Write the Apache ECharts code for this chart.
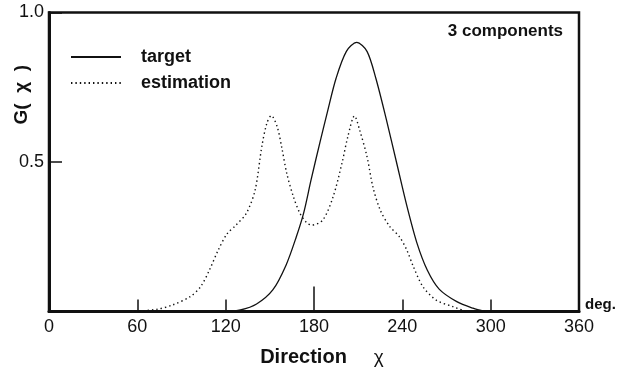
<!DOCTYPE html>
<html>
<head>
<meta charset="utf-8">
<script src="https://cdn.jsdelivr.net/npm/echarts@6/dist/echarts.min.js"></script>
<style>
  html, body { margin: 0; padding: 0; background: #fff; }
  #chart { width: 634px; height: 374px; }
</style>
</head>
<body>
<div id="chart"></div>
<script>
// Directional spreading function G(χ): target vs. 3-component estimate
const xTicks = [0, 60, 120, 180, 240, 300, 360];
const yTicks = [0, 0.5, 1.0];

const targetDeg = [120, 130, 141, 152, 161, 168, 173, 178, 184, 189, 195, 202, 209, 216, 222, 229, 236, 243, 250, 257, 265, 277, 288, 296];
const targetG   = [0, 0.005, 0.025, 0.072, 0.155, 0.25, 0.33, 0.44, 0.565, 0.665, 0.78, 0.87, 0.9, 0.87, 0.78, 0.645, 0.5, 0.355, 0.228, 0.138, 0.075, 0.033, 0.011, 0];

const estimationDeg = [55, 73, 84, 96, 103, 109, 115, 121, 127, 134, 140, 144.5, 148, 151, 155, 158, 161.5, 166, 170.5, 175, 178.5, 186, 193, 199, 203, 207.5, 211, 216, 220, 225, 231.5, 238, 243, 247.5, 254, 263, 274.5, 283];
const estimationG   = [0, 0.007, 0.022, 0.05, 0.083, 0.139, 0.206, 0.26, 0.289, 0.328, 0.406, 0.55, 0.63, 0.655, 0.618, 0.551, 0.462, 0.384, 0.328, 0.297, 0.289, 0.306, 0.384, 0.496, 0.585, 0.654, 0.607, 0.518, 0.417, 0.339, 0.284, 0.25, 0.206, 0.15, 0.083, 0.038, 0.016, 0];

const pairs = (xs, ys) => xs.map((x, i) => [x, ys[i]]);

const FONT = 'Liberation Sans, Arial, Helvetica, sans-serif';
const INK = '#111';

const chart = echarts.init(document.getElementById('chart'));
chart.setOption({
  animation: false,
  backgroundColor: '#fff',
  grid: {
    left: 49, right: 55, top: 12.5, bottom: 62.5,
    show: true, borderColor: INK, borderWidth: 2.5
  },
  title: {
    text: '3 components',
    right: 71, top: 23, padding: 0,
    textStyle: { fontFamily: FONT, fontSize: 17, fontWeight: 'bold', color: INK }
  },
  legend: {
    orient: 'vertical',
    left: 65, top: 43,
    itemWidth: 50, itemHeight: 14, itemGap: 8,
    data: ['target', 'estimation'],
    itemStyle: { opacity: 0 },
    textStyle: { fontFamily: FONT, fontSize: 18, fontWeight: 'bold', color: INK, padding: [0, 0, 0, 15] }
  },
  xAxis: [
    {
      type: 'value', min: xTicks[0], max: xTicks[xTicks.length - 1], interval: 60,
      axisLine: { show: true, onZero: false, lineStyle: { color: INK, width: 3 } },
      axisTick: { show: true, inside: true, length: 12, lineStyle: { color: INK, width: 1.5 } },
      axisLabel: { margin: 7, fontFamily: FONT, fontSize: 18, color: INK },
      splitLine: { show: false },
      name: 'Direction{gap|}{chi|χ}',
      nameLocation: 'middle', nameGap: 36,
      nameTextStyle: {
        fontFamily: FONT, fontSize: 20, fontWeight: 'bold', color: INK,
        padding: [0, 0, 0, 16],
        rich: {
          gap: { width: 27 },
          chi: { fontFamily: FONT, fontSize: 19, fontWeight: 'normal', color: INK }
        }
      }
    },
    {
      // longer centre tick at 180°
      type: 'value', min: 0, max: 360, interval: 180, position: 'bottom',
      axisLine: { show: false },
      axisTick: { show: true, inside: true, length: 25, lineStyle: { color: INK, width: 1.5 } },
      axisLabel: { show: false },
      splitLine: { show: false }
    }
  ],
  yAxis: {
    type: 'value', min: yTicks[0], max: yTicks[yTicks.length - 1], interval: 0.5,
    axisLine: { show: true, lineStyle: { color: INK, width: 3 } },
    axisTick: { show: true, inside: true, length: 13, lineStyle: { color: INK, width: 1.5 } },
    axisLabel: {
      margin: 5, fontFamily: FONT, fontSize: 18, color: INK,
      formatter: v => (v === 0 ? '' : v.toFixed(1))
    },
    splitLine: { show: false }
  },
  graphic: [
    {
      type: 'text', left: 12, top: 65, rotation: Math.PI / 2,
      style: { text: 'G(  χ  )', font: 'bold 19px ' + FONT, fill: INK }
    },
    {
      type: 'text', left: 585, top: 297,
      style: { text: 'deg.', font: 'bold 15px ' + FONT, fill: INK }
    }
  ],
  series: [
    {
      name: 'target', type: 'line', xAxisIndex: 0,
      data: pairs(targetDeg, targetG),
      smooth: 0.3, showSymbol: false, symbol: 'none',
      lineStyle: { color: INK, width: 1.3, type: 'solid' },
      itemStyle: { color: INK }
    },
    {
      name: 'estimation', type: 'line', xAxisIndex: 0,
      data: pairs(estimationDeg, estimationG),
      smooth: 0.3, showSymbol: false, symbol: 'none',
      lineStyle: { color: INK, width: 1.4, type: [1.4, 3] },
      itemStyle: { color: INK }
    }
  ]
});
</script>
</body>
</html>
